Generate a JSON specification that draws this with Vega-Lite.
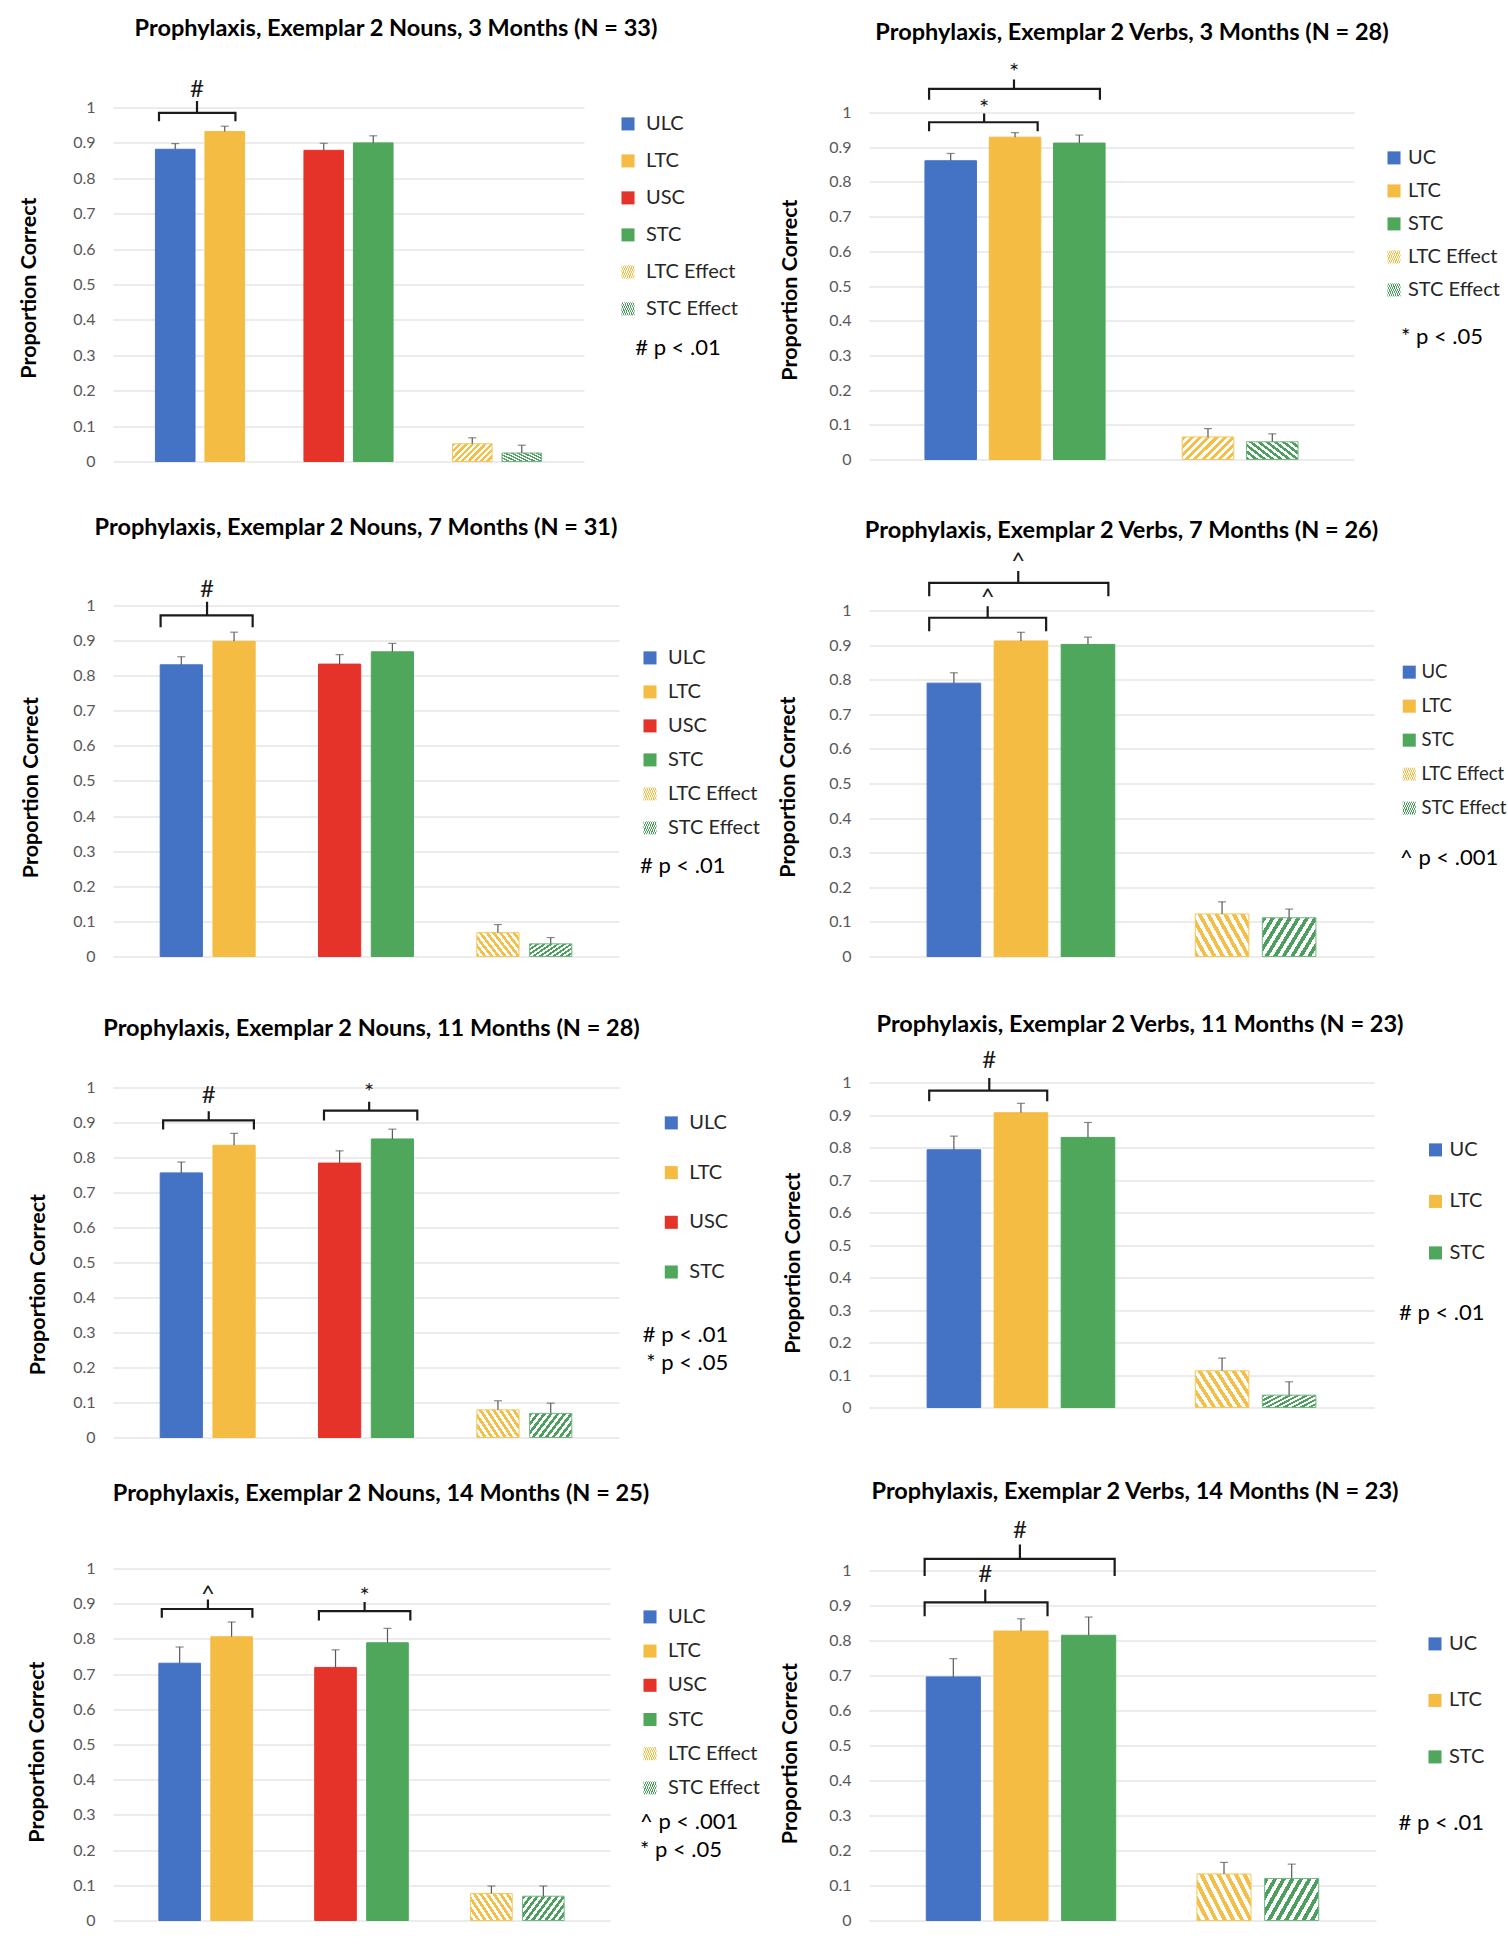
{
"$schema": "https://vega.github.io/schema/vega-lite/v6.json",
"background": "white",
"padding": {"left": 18, "top": 16.5, "right": 0, "bottom": 0},
"bounds": "flush",
"columns": 2,
"spacing": {"row": 78, "column": 250},
"resolve": {"scale": {"color": "independent", "stroke": "independent", "xOffset": "independent"}, "legend": {"color": "independent", "stroke": "independent"}},
"params": [
 {"name": "stY", "expr": "[{offset:0,color:'#F3BF48'},{offset:0.0556,color:'#F3BF48'},{offset:0.0556,color:'#fff'},{offset:0.1111,color:'#fff'},{offset:0.1111,color:'#F3BF48'},{offset:0.1667,color:'#F3BF48'},{offset:0.1667,color:'#fff'},{offset:0.2222,color:'#fff'},{offset:0.2222,color:'#F3BF48'},{offset:0.2778,color:'#F3BF48'},{offset:0.2778,color:'#fff'},{offset:0.3333,color:'#fff'},{offset:0.3333,color:'#F3BF48'},{offset:0.3889,color:'#F3BF48'},{offset:0.3889,color:'#fff'},{offset:0.4444,color:'#fff'},{offset:0.4444,color:'#F3BF48'},{offset:0.5,color:'#F3BF48'},{offset:0.5,color:'#fff'},{offset:0.5556,color:'#fff'},{offset:0.5556,color:'#F3BF48'},{offset:0.6111,color:'#F3BF48'},{offset:0.6111,color:'#fff'},{offset:0.6667,color:'#fff'},{offset:0.6667,color:'#F3BF48'},{offset:0.7222,color:'#F3BF48'},{offset:0.7222,color:'#fff'},{offset:0.7778,color:'#fff'},{offset:0.7778,color:'#F3BF48'},{offset:0.8333,color:'#F3BF48'},{offset:0.8333,color:'#fff'},{offset:0.8889,color:'#fff'},{offset:0.8889,color:'#F3BF48'},{offset:0.9444,color:'#F3BF48'},{offset:0.9444,color:'#fff'},{offset:1,color:'#fff'}]"},
 {"name": "stG", "expr": "[{offset:0,color:'#4E9F5F'},{offset:0.0556,color:'#4E9F5F'},{offset:0.0556,color:'#fff'},{offset:0.1111,color:'#fff'},{offset:0.1111,color:'#4E9F5F'},{offset:0.1667,color:'#4E9F5F'},{offset:0.1667,color:'#fff'},{offset:0.2222,color:'#fff'},{offset:0.2222,color:'#4E9F5F'},{offset:0.2778,color:'#4E9F5F'},{offset:0.2778,color:'#fff'},{offset:0.3333,color:'#fff'},{offset:0.3333,color:'#4E9F5F'},{offset:0.3889,color:'#4E9F5F'},{offset:0.3889,color:'#fff'},{offset:0.4444,color:'#fff'},{offset:0.4444,color:'#4E9F5F'},{offset:0.5,color:'#4E9F5F'},{offset:0.5,color:'#fff'},{offset:0.5556,color:'#fff'},{offset:0.5556,color:'#4E9F5F'},{offset:0.6111,color:'#4E9F5F'},{offset:0.6111,color:'#fff'},{offset:0.6667,color:'#fff'},{offset:0.6667,color:'#4E9F5F'},{offset:0.7222,color:'#4E9F5F'},{offset:0.7222,color:'#fff'},{offset:0.7778,color:'#fff'},{offset:0.7778,color:'#4E9F5F'},{offset:0.8333,color:'#4E9F5F'},{offset:0.8333,color:'#fff'},{offset:0.8889,color:'#fff'},{offset:0.8889,color:'#4E9F5F'},{offset:0.9444,color:'#4E9F5F'},{offset:0.9444,color:'#fff'},{offset:1,color:'#fff'}]"},
 {"name": "gYf", "expr": "{gradient:'linear',x1:0,y1:0,x2:1.2,y2:0.53,stops:stY}"},
 {"name": "gYb", "expr": "{gradient:'linear',x1:0,y1:1,x2:1.2,y2:0.47,stops:stY}"},
 {"name": "gGf", "expr": "{gradient:'linear',x1:0,y1:0,x2:1.2,y2:0.53,stops:stG}"},
 {"name": "gGb", "expr": "{gradient:'linear',x1:0,y1:1,x2:1.2,y2:0.47,stops:stG}"}
],
"config": {
 "font": "Lato",
 "view": {"stroke": null},
 "title": {"fontSize": 23.5, "fontWeight": "bold", "color": "#000000", "baseline": "middle", "font": "Lato"},
 "axis": {"labelFontSize": 16, "labelColor": "#595959", "labelPadding": 18, "ticks": false, "domain": false, "gridColor": "#d9d9d9", "gridWidth": 1.2, "titleFontSize": 21.5, "titleFontWeight": "bold", "titleColor": "#000000", "titleBaseline": "alphabetic", "format": "~g"},
 "legend": {"symbolType": "square", "symbolSize": 170, "symbolStrokeWidth": 0, "labelFontSize": 20, "labelColor": "#262626", "labelOffset": 8, "titleFontSize": 22, "titleFontWeight": "normal", "titleColor": "#000000", "titleLineHeight": 28, "padding": 0, "direction": "vertical", "orient": "none", "titleLimit": 300}
},
"concat": [
 {
  "width": 471, "height": 412,
  "title": {"text": "Prophylaxis, Exemplar 2 Nouns, 3 Months (N = 33)", "offset": 9.2, "dx": 47.5},
  "data": {"values": [
   {"s": "ULC", "y": 0.882, "hi": 0.898},
   {"s": "LTC", "y": 0.932, "hi": 0.947},
   {"s": "USC", "y": 0.879, "hi": 0.899},
   {"s": "STC", "y": 0.900, "hi": 0.920},
   {"s": "LTC Effect", "y": 0.050, "hi": 0.067},
   {"s": "STC Effect", "y": 0.024, "hi": 0.046}
  ]},
  "encoding": {
   "x": {"field": "s", "type": "nominal", "axis": null, "scale": {"domain": ["ULC","LTC","g1","USC","STC","g2","LTC Effect","STC Effect"], "paddingInner": 0.2, "paddingOuter": 0.857}},
   "y": {"field": "y", "type": "quantitative", "scale": {"domain": [0, 1.1638], "nice": false}, "axis": {"values": [0,0.1,0.2,0.3,0.4,0.5,0.6,0.7,0.8,0.9,1], "title": "Proportion Correct", "titleX": -78, "titleY": 238}}
  },
  "layer": [
   {"mark": {"type": "bar", "strokeWidth": 1, "width": 39.6},
    "encoding": {
     "color": {"field": "s", "type": "nominal", "scale": {"domain": ["ULC","LTC","USC","STC","LTC Effect","STC Effect"], "range": ["#4472C4","#F4BC42","#E5332A","#4EA75B",{"expr": "gYf"},{"expr": "gGb"}]},
      "legend": {"legendX": 505, "legendY": 64.4, "rowPadding": 17, "title": ["# p < .01"], "titleOrient": "bottom", "titlePadding": 19.3, "titleAnchor": "middle", "titleAlign": "center"}},
     "stroke": {"field": "s", "type": "nominal", "scale": {"domain": ["ULC","LTC","USC","STC","LTC Effect","STC Effect"], "range": ["#4472C4","#F4BC42","#E5332A","#4EA75B","#F3C75E","#74B784"]}, "legend": null}
    }},
   {"mark": {"type": "rule", "color": "#595959", "strokeWidth": 1.2}, "encoding": {"y2": {"field": "hi"}}},
   {"mark": {"type": "tick", "color": "#595959", "thickness": 1.2, "size": 8}, "encoding": {"y": {"field": "hi", "type": "quantitative", "scale": {"domain": [0, 1.1638], "nice": false}, "axis": {"values": [0,0.1,0.2,0.3,0.4,0.5,0.6,0.7,0.8,0.9,1], "title": "Proportion Correct", "titleX": -78, "titleY": 238}}}},
   {"data": {"values": [
     {"b": 1, "i": 0, "s": "ULC", "o": 0.09, "y": 0.961},
     {"b": 1, "i": 1, "s": "ULC", "o": 0.09, "y": 0.985},
     {"b": 1, "i": 2, "s": "ULC", "o": 1.05, "y": 0.985},
     {"b": 1, "i": 3, "s": "ULC", "o": 1.05, "y": 1.018},
     {"b": 1, "i": 4, "s": "ULC", "o": 1.05, "y": 0.985},
     {"b": 1, "i": 5, "s": "LTC", "o": 0.77, "y": 0.985},
     {"b": 1, "i": 6, "s": "LTC", "o": 0.77, "y": 0.961}
    ]},
    "mark": {"type": "line", "color": "#1a1a1a", "strokeWidth": 2.2},
    "encoding": {"xOffset": {"field": "o", "type": "quantitative", "scale": {"domain": [0, 1], "nice": false, "zero": false}}, "detail": {"field": "b", "type": "nominal"}, "order": {"field": "i", "type": "quantitative"}}},
   {"data": {"values": [{"s": "ULC", "o": 1.05, "y": 1.049, "t": "#"}]},
    "mark": {"type": "text", "fontSize": 24, "color": "#1a1a1a", "baseline": "middle"},
    "encoding": {"xOffset": {"field": "o", "type": "quantitative", "scale": {"domain": [0, 1], "nice": false, "zero": false}}, "text": {"field": "t"}}}
  ]
 },
 {
  "width": 485, "height": 410,
  "title": {"text": "Prophylaxis, Exemplar 2 Verbs, 3 Months (N = 28)", "offset": 5.5, "dx": 20.5},
  "data": {"values": [
   {"s": "UC", "y": 0.861, "hi": 0.882},
   {"s": "LTC", "y": 0.929, "hi": 0.942},
   {"s": "STC", "y": 0.912, "hi": 0.935},
   {"s": "LTC Effect", "y": 0.065, "hi": 0.089},
   {"s": "STC Effect", "y": 0.051, "hi": 0.074}
  ]},
  "encoding": {
   "x": {"field": "s", "type": "nominal", "axis": null, "scale": {"domain": ["UC","LTC","STC","g1","LTC Effect","STC Effect"], "paddingInner": 0.2, "paddingOuter": 0.87}},
   "y": {"field": "y", "type": "quantitative", "scale": {"domain": [0, 1.1816], "nice": false}, "axis": {"values": [0,0.1,0.2,0.3,0.4,0.5,0.6,0.7,0.8,0.9,1], "title": "Proportion Correct", "titleX": -73, "titleY": 240}}
  },
  "layer": [
   {"mark": {"type": "bar", "strokeWidth": 1, "width": 51.5},
    "encoding": {
     "color": {"field": "s", "type": "nominal", "scale": {"domain": ["UC","LTC","STC","LTC Effect","STC Effect"], "range": ["#4472C4","#F4BC42","#4EA75B",{"expr": "gYf"},{"expr": "gGb"}]},
      "legend": {"legendX": 515, "legendY": 98.4, "rowPadding": 13, "labelOffset": 4, "title": ["* p < .05"], "titleOrient": "bottom", "titlePadding": 27.3, "titleAnchor": "middle", "titleAlign": "center"}},
     "stroke": {"field": "s", "type": "nominal", "scale": {"domain": ["UC","LTC","STC","LTC Effect","STC Effect"], "range": ["#4472C4","#F4BC42","#4EA75B","#F3C75E","#74B784"]}, "legend": null}
    }},
   {"mark": {"type": "rule", "color": "#595959", "strokeWidth": 1.2}, "encoding": {"y2": {"field": "hi"}}},
   {"mark": {"type": "tick", "color": "#595959", "thickness": 1.2, "size": 8}, "encoding": {"y": {"field": "hi", "type": "quantitative", "scale": {"domain": [0, 1.1816], "nice": false}, "axis": {"values": [0,0.1,0.2,0.3,0.4,0.5,0.6,0.7,0.8,0.9,1], "title": "Proportion Correct", "titleX": -73, "titleY": 240}}}},
   {"data": {"values": [
     {"b": 1, "i": 0, "s": "UC", "o": 0.08, "y": 0.946},
     {"b": 1, "i": 1, "s": "UC", "o": 0.08, "y": 0.972},
     {"b": 1, "i": 2, "s": "UC", "o": 1.15, "y": 0.972},
     {"b": 1, "i": 3, "s": "UC", "o": 1.15, "y": 0.997},
     {"b": 1, "i": 4, "s": "UC", "o": 1.15, "y": 0.972},
     {"b": 1, "i": 5, "s": "LTC", "o": 0.94, "y": 0.972},
     {"b": 1, "i": 6, "s": "LTC", "o": 0.94, "y": 0.946},
     {"b": 2, "i": 0, "s": "UC", "o": 0.08, "y": 1.037},
     {"b": 2, "i": 1, "s": "UC", "o": 0.08, "y": 1.068},
     {"b": 2, "i": 2, "s": "LTC", "o": 0.48, "y": 1.068},
     {"b": 2, "i": 3, "s": "LTC", "o": 0.48, "y": 1.095},
     {"b": 2, "i": 4, "s": "LTC", "o": 0.48, "y": 1.068},
     {"b": 2, "i": 5, "s": "STC", "o": 0.9, "y": 1.068},
     {"b": 2, "i": 6, "s": "STC", "o": 0.9, "y": 1.037}
    ]},
    "mark": {"type": "line", "color": "#1a1a1a", "strokeWidth": 2.2},
    "encoding": {"xOffset": {"field": "o", "type": "quantitative", "scale": {"domain": [0, 1], "nice": false, "zero": false}}, "detail": {"field": "b", "type": "nominal"}, "order": {"field": "i", "type": "quantitative"}}},
   {"data": {"values": [{"s": "UC", "o": 1.15, "y": 1.009, "t": "*"}, {"s": "LTC", "o": 0.48, "y": 1.114, "t": "*"}]},
    "mark": {"type": "text", "fontSize": 24, "color": "#1a1a1a", "baseline": "middle"},
    "encoding": {"xOffset": {"field": "o", "type": "quantitative", "scale": {"domain": [0, 1], "nice": false, "zero": false}}, "text": {"field": "t"}}}
  ]
 },
 {
  "width": 506, "height": 417,
  "title": {"text": "Prophylaxis, Exemplar 2 Nouns, 7 Months (N = 31)", "offset": 0.5, "dx": -10},
  "data": {"values": [
   {"s": "ULC", "y": 0.831, "hi": 0.854},
   {"s": "LTC", "y": 0.898, "hi": 0.924},
   {"s": "USC", "y": 0.833, "hi": 0.860},
   {"s": "STC", "y": 0.868, "hi": 0.892},
   {"s": "LTC Effect", "y": 0.068, "hi": 0.091},
   {"s": "STC Effect", "y": 0.036, "hi": 0.054}
  ]},
  "encoding": {
   "x": {"field": "s", "type": "nominal", "axis": null, "scale": {"domain": ["ULC","LTC","g1","USC","STC","g2","LTC Effect","STC Effect"], "paddingInner": 0.2, "paddingOuter": 0.894}},
   "y": {"field": "y", "type": "quantitative", "scale": {"domain": [0, 1.188], "nice": false}, "axis": {"values": [0,0.1,0.2,0.3,0.4,0.5,0.6,0.7,0.8,0.9,1], "title": "Proportion Correct", "titleX": -76, "titleY": 247.5}}
  },
  "layer": [
   {"mark": {"type": "bar", "strokeWidth": 1, "width": 42.2},
    "encoding": {
     "color": {"field": "s", "type": "nominal", "scale": {"domain": ["ULC","LTC","USC","STC","LTC Effect","STC Effect"], "range": ["#4472C4","#F4BC42","#E5332A","#4EA75B",{"expr": "gYb"},{"expr": "gGf"}]},
      "legend": {"legendX": 527, "legendY": 108.4, "rowPadding": 14, "title": ["# p < .01"], "titleOrient": "bottom", "titlePadding": 18.3, "titleAnchor": "start", "titleAlign": "left"}},
     "stroke": {"field": "s", "type": "nominal", "scale": {"domain": ["ULC","LTC","USC","STC","LTC Effect","STC Effect"], "range": ["#4472C4","#F4BC42","#E5332A","#4EA75B","#F3C75E","#74B784"]}, "legend": null}
    }},
   {"mark": {"type": "rule", "color": "#595959", "strokeWidth": 1.2}, "encoding": {"y2": {"field": "hi"}}},
   {"mark": {"type": "tick", "color": "#595959", "thickness": 1.2, "size": 8}, "encoding": {"y": {"field": "hi", "type": "quantitative", "scale": {"domain": [0, 1.188], "nice": false}, "axis": {"values": [0,0.1,0.2,0.3,0.4,0.5,0.6,0.7,0.8,0.9,1], "title": "Proportion Correct", "titleX": -76, "titleY": 247.5}}}},
   {"data": {"values": [
     {"b": 1, "i": 0, "s": "ULC", "o": 0.01, "y": 0.938},
     {"b": 1, "i": 1, "s": "ULC", "o": 0.01, "y": 0.972},
     {"b": 1, "i": 2, "s": "ULC", "o": 1.11, "y": 0.972},
     {"b": 1, "i": 3, "s": "ULC", "o": 1.11, "y": 1.011},
     {"b": 1, "i": 4, "s": "ULC", "o": 1.11, "y": 0.972},
     {"b": 1, "i": 5, "s": "LTC", "o": 0.94, "y": 0.972},
     {"b": 1, "i": 6, "s": "LTC", "o": 0.94, "y": 0.938}
    ]},
    "mark": {"type": "line", "color": "#1a1a1a", "strokeWidth": 2.2},
    "encoding": {"xOffset": {"field": "o", "type": "quantitative", "scale": {"domain": [0, 1], "nice": false, "zero": false}}, "detail": {"field": "b", "type": "nominal"}, "order": {"field": "i", "type": "quantitative"}}},
   {"data": {"values": [{"s": "ULC", "o": 1.11, "y": 1.044, "t": "#"}]},
    "mark": {"type": "text", "fontSize": 24, "color": "#1a1a1a", "baseline": "middle"},
    "encoding": {"xOffset": {"field": "o", "type": "quantitative", "scale": {"domain": [0, 1], "nice": false, "zero": false}}, "text": {"field": "t"}}}
  ]
 },
 {
  "width": 505, "height": 417,
  "title": {"text": "Prophylaxis, Exemplar 2 Verbs, 7 Months (N = 26)", "offset": -2.5, "dx": 0},
  "data": {"values": [
   {"s": "UC", "y": 0.790, "hi": 0.820},
   {"s": "LTC", "y": 0.912, "hi": 0.937},
   {"s": "STC", "y": 0.902, "hi": 0.923},
   {"s": "LTC Effect", "y": 0.123, "hi": 0.158},
   {"s": "STC Effect", "y": 0.112, "hi": 0.137}
  ]},
  "encoding": {
   "x": {"field": "s", "type": "nominal", "axis": null, "scale": {"domain": ["UC","LTC","STC","g1","LTC Effect","STC Effect"], "paddingInner": 0.2, "paddingOuter": 0.866}},
   "y": {"field": "y", "type": "quantitative", "scale": {"domain": [0, 1.2052], "nice": false}, "axis": {"values": [0,0.1,0.2,0.3,0.4,0.5,0.6,0.7,0.8,0.9,1], "title": "Proportion Correct", "titleX": -75, "titleY": 247}}
  },
  "layer": [
   {"mark": {"type": "bar", "strokeWidth": 1, "width": 53.6},
    "encoding": {
     "color": {"field": "s", "type": "nominal", "scale": {"domain": ["UC","LTC","STC","LTC Effect","STC Effect"], "range": ["#4472C4","#F4BC42","#4EA75B",{"expr": "gYb"},{"expr": "gGf"}]},
      "legend": {"legendX": 531, "legendY": 123.4, "rowPadding": 15, "labelOffset": 3, "labelFontSize": 18.5, "title": ["^ p < .001"], "titleOrient": "bottom", "titlePadding": 30.3, "titleAnchor": "start", "titleAlign": "left"}},
     "stroke": {"field": "s", "type": "nominal", "scale": {"domain": ["UC","LTC","STC","LTC Effect","STC Effect"], "range": ["#4472C4","#F4BC42","#4EA75B","#F3C75E","#74B784"]}, "legend": null}
    }},
   {"mark": {"type": "rule", "color": "#595959", "strokeWidth": 1.2}, "encoding": {"y2": {"field": "hi"}}},
   {"mark": {"type": "tick", "color": "#595959", "thickness": 1.2, "size": 8}, "encoding": {"y": {"field": "hi", "type": "quantitative", "scale": {"domain": [0, 1.2052], "nice": false}, "axis": {"values": [0,0.1,0.2,0.3,0.4,0.5,0.6,0.7,0.8,0.9,1], "title": "Proportion Correct", "titleX": -75, "titleY": 247}}}},
   {"data": {"values": [
     {"b": 1, "i": 0, "s": "UC", "o": 0.04, "y": 0.940},
     {"b": 1, "i": 1, "s": "UC", "o": 0.04, "y": 0.979},
     {"b": 1, "i": 2, "s": "UC", "o": 1.13, "y": 0.979},
     {"b": 1, "i": 3, "s": "UC", "o": 1.13, "y": 1.012},
     {"b": 1, "i": 4, "s": "UC", "o": 1.13, "y": 0.979},
     {"b": 1, "i": 5, "s": "LTC", "o": 0.97, "y": 0.979},
     {"b": 1, "i": 6, "s": "LTC", "o": 0.97, "y": 0.940},
     {"b": 2, "i": 0, "s": "UC", "o": 0.04, "y": 1.041},
     {"b": 2, "i": 1, "s": "UC", "o": 0.04, "y": 1.080},
     {"b": 2, "i": 2, "s": "LTC", "o": 0.45, "y": 1.080},
     {"b": 2, "i": 3, "s": "LTC", "o": 0.45, "y": 1.114},
     {"b": 2, "i": 4, "s": "LTC", "o": 0.45, "y": 1.080},
     {"b": 2, "i": 5, "s": "STC", "o": 0.88, "y": 1.080},
     {"b": 2, "i": 6, "s": "STC", "o": 0.88, "y": 1.041}
    ]},
    "mark": {"type": "line", "color": "#1a1a1a", "strokeWidth": 2.2},
    "encoding": {"xOffset": {"field": "o", "type": "quantitative", "scale": {"domain": [0, 1], "nice": false, "zero": false}}, "detail": {"field": "b", "type": "nominal"}, "order": {"field": "i", "type": "quantitative"}}},
   {"data": {"values": [{"s": "UC", "o": 1.13, "y": 1.037, "t": "^"}, {"s": "LTC", "o": 0.45, "y": 1.139, "t": "^"}]},
    "mark": {"type": "text", "fontSize": 24, "color": "#1a1a1a", "baseline": "middle"},
    "encoding": {"xOffset": {"field": "o", "type": "quantitative", "scale": {"domain": [0, 1], "nice": false, "zero": false}}, "text": {"field": "t"}}}
  ]
 },
 {
  "width": 506, "height": 403,
  "title": {"text": "Prophylaxis, Exemplar 2 Nouns, 11 Months (N = 28)", "offset": -6.2, "dx": 5.5},
  "data": {"values": [
   {"s": "ULC", "y": 0.756, "hi": 0.787},
   {"s": "LTC", "y": 0.835, "hi": 0.869},
   {"s": "USC", "y": 0.784, "hi": 0.819},
   {"s": "STC", "y": 0.853, "hi": 0.881},
   {"s": "LTC Effect", "y": 0.079, "hi": 0.105},
   {"s": "STC Effect", "y": 0.069, "hi": 0.098}
  ]},
  "encoding": {
   "x": {"field": "s", "type": "nominal", "axis": null, "scale": {"domain": ["ULC","LTC","g1","USC","STC","g2","LTC Effect","STC Effect"], "paddingInner": 0.2, "paddingOuter": 0.894}},
   "y": {"field": "y", "type": "quantitative", "scale": {"domain": [0, 1.1514], "nice": false}, "axis": {"values": [0,0.1,0.2,0.3,0.4,0.5,0.6,0.7,0.8,0.9,1], "title": "Proportion Correct", "titleX": -69, "titleY": 249.5}}
  },
  "layer": [
   {"mark": {"type": "bar", "strokeWidth": 1, "width": 42.2},
    "encoding": {
     "color": {"field": "s", "type": "nominal", "scale": {"domain": ["ULC","LTC","USC","STC","LTC Effect","STC Effect"], "range": ["#4472C4","#F4BC42","#E5332A","#4EA75B",{"expr": "gYb"},{"expr": "gGf"}]},
      "legend": {"values": ["ULC","LTC","USC","STC"], "legendX": 530.3, "legendY": 78.4, "rowPadding": 29.7, "title": ["# p < .01", "* p < .05"], "titleOrient": "bottom", "titlePadding": 43.3, "titleAnchor": "end", "titleAlign": "right"}},
     "stroke": {"field": "s", "type": "nominal", "scale": {"domain": ["ULC","LTC","USC","STC","LTC Effect","STC Effect"], "range": ["#4472C4","#F4BC42","#E5332A","#4EA75B","#F3C75E","#74B784"]}, "legend": null}
    }},
   {"mark": {"type": "rule", "color": "#595959", "strokeWidth": 1.2}, "encoding": {"y2": {"field": "hi"}}},
   {"mark": {"type": "tick", "color": "#595959", "thickness": 1.2, "size": 8}, "encoding": {"y": {"field": "hi", "type": "quantitative", "scale": {"domain": [0, 1.1514], "nice": false}, "axis": {"values": [0,0.1,0.2,0.3,0.4,0.5,0.6,0.7,0.8,0.9,1], "title": "Proportion Correct", "titleX": -69, "titleY": 249.5}}}},
   {"data": {"values": [
     {"b": 1, "i": 0, "s": "ULC", "o": 0.07, "y": 0.880},
     {"b": 1, "i": 1, "s": "ULC", "o": 0.07, "y": 0.906},
     {"b": 1, "i": 2, "s": "ULC", "o": 1.15, "y": 0.906},
     {"b": 1, "i": 3, "s": "ULC", "o": 1.15, "y": 0.932},
     {"b": 1, "i": 4, "s": "ULC", "o": 1.15, "y": 0.906},
     {"b": 1, "i": 5, "s": "LTC", "o": 0.97, "y": 0.906},
     {"b": 1, "i": 6, "s": "LTC", "o": 0.97, "y": 0.880},
     {"b": 2, "i": 0, "s": "USC", "o": 0.13, "y": 0.906},
     {"b": 2, "i": 1, "s": "USC", "o": 0.13, "y": 0.934},
     {"b": 2, "i": 2, "s": "USC", "o": 1.2, "y": 0.934},
     {"b": 2, "i": 3, "s": "USC", "o": 1.2, "y": 0.959},
     {"b": 2, "i": 4, "s": "USC", "o": 1.2, "y": 0.934},
     {"b": 2, "i": 5, "s": "STC", "o": 1.09, "y": 0.934},
     {"b": 2, "i": 6, "s": "STC", "o": 1.09, "y": 0.906}
    ]},
    "mark": {"type": "line", "color": "#1a1a1a", "strokeWidth": 2.2},
    "encoding": {"xOffset": {"field": "o", "type": "quantitative", "scale": {"domain": [0, 1], "nice": false, "zero": false}}, "detail": {"field": "b", "type": "nominal"}, "order": {"field": "i", "type": "quantitative"}}},
   {"data": {"values": [{"s": "ULC", "o": 1.15, "y": 0.975, "t": "#"}, {"s": "USC", "o": 1.2, "y": 0.983, "t": "*"}]},
    "mark": {"type": "text", "fontSize": 24, "color": "#1a1a1a", "baseline": "middle"},
    "encoding": {"xOffset": {"field": "o", "type": "quantitative", "scale": {"domain": [0, 1], "nice": false, "zero": false}}, "text": {"field": "t"}}}
  ]
 },
 {
  "width": 505, "height": 373,
  "title": {"text": "Prophylaxis, Exemplar 2 Verbs, 11 Months (N = 23)", "offset": -1.8, "dx": 18.5},
  "data": {"values": [
   {"s": "UC", "y": 0.793, "hi": 0.835},
   {"s": "LTC", "y": 0.907, "hi": 0.936},
   {"s": "STC", "y": 0.831, "hi": 0.877},
   {"s": "LTC Effect", "y": 0.113, "hi": 0.152},
   {"s": "STC Effect", "y": 0.038, "hi": 0.079}
  ]},
  "encoding": {
   "x": {"field": "s", "type": "nominal", "axis": null, "scale": {"domain": ["UC","LTC","STC","g1","LTC Effect","STC Effect"], "paddingInner": 0.2, "paddingOuter": 0.866}},
   "y": {"field": "y", "type": "quantitative", "scale": {"domain": [0, 1.1477], "nice": false}, "axis": {"values": [0,0.1,0.2,0.3,0.4,0.5,0.6,0.7,0.8,0.9,1], "title": "Proportion Correct", "titleX": -70, "titleY": 228}}
  },
  "layer": [
   {"mark": {"type": "bar", "strokeWidth": 1, "width": 53.6},
    "encoding": {
     "color": {"field": "s", "type": "nominal", "scale": {"domain": ["UC","LTC","STC","LTC Effect","STC Effect"], "range": ["#4472C4","#F4BC42","#4EA75B",{"expr": "gYb"},{"expr": "gGf"}]},
      "legend": {"values": ["UC","LTC","STC"], "legendX": 530.5, "legendY": 105.4, "rowPadding": 31.5, "labelOffset": 4, "title": ["# p < .01"], "titleOrient": "bottom", "titlePadding": 40.3, "titleAnchor": "end", "titleAlign": "right"}},
     "stroke": {"field": "s", "type": "nominal", "scale": {"domain": ["UC","LTC","STC","LTC Effect","STC Effect"], "range": ["#4472C4","#F4BC42","#4EA75B","#F3C75E","#74B784"]}, "legend": null}
    }},
   {"mark": {"type": "rule", "color": "#595959", "strokeWidth": 1.2}, "encoding": {"y2": {"field": "hi"}}},
   {"mark": {"type": "tick", "color": "#595959", "thickness": 1.2, "size": 8}, "encoding": {"y": {"field": "hi", "type": "quantitative", "scale": {"domain": [0, 1.1477], "nice": false}, "axis": {"values": [0,0.1,0.2,0.3,0.4,0.5,0.6,0.7,0.8,0.9,1], "title": "Proportion Correct", "titleX": -70, "titleY": 228}}}},
   {"data": {"values": [
     {"b": 1, "i": 0, "s": "UC", "o": 0.04, "y": 0.9425},
     {"b": 1, "i": 1, "s": "UC", "o": 0.04, "y": 0.975},
     {"b": 1, "i": 2, "s": "UC", "o": 1.16, "y": 0.975},
     {"b": 1, "i": 3, "s": "UC", "o": 1.16, "y": 1.014},
     {"b": 1, "i": 4, "s": "UC", "o": 1.16, "y": 0.975},
     {"b": 1, "i": 5, "s": "LTC", "o": 0.99, "y": 0.975},
     {"b": 1, "i": 6, "s": "LTC", "o": 0.99, "y": 0.9425}
    ]},
    "mark": {"type": "line", "color": "#1a1a1a", "strokeWidth": 2.2},
    "encoding": {"xOffset": {"field": "o", "type": "quantitative", "scale": {"domain": [0, 1], "nice": false, "zero": false}}, "detail": {"field": "b", "type": "nominal"}, "order": {"field": "i", "type": "quantitative"}}},
   {"data": {"values": [{"s": "UC", "o": 1.16, "y": 1.066, "t": "#"}]},
    "mark": {"type": "text", "fontSize": 24, "color": "#1a1a1a", "baseline": "middle"},
    "encoding": {"xOffset": {"field": "o", "type": "quantitative", "scale": {"domain": [0, 1], "nice": false, "zero": false}}, "text": {"field": "t"}}}
  ]
 },
 {
  "width": 497, "height": 405,
  "title": {"text": "Prophylaxis, Exemplar 2 Nouns, 14 Months (N = 25)", "offset": 9.8, "dx": 19.5},
  "data": {"values": [
   {"s": "ULC", "y": 0.731, "hi": 0.777},
   {"s": "LTC", "y": 0.806, "hi": 0.848},
   {"s": "USC", "y": 0.719, "hi": 0.769},
   {"s": "STC", "y": 0.789, "hi": 0.830},
   {"s": "LTC Effect", "y": 0.077, "hi": 0.098},
   {"s": "STC Effect", "y": 0.069, "hi": 0.098}
  ]},
  "encoding": {
   "x": {"field": "s", "type": "nominal", "axis": null, "scale": {"domain": ["ULC","LTC","g1","USC","STC","g2","LTC Effect","STC Effect"], "paddingInner": 0.2, "paddingOuter": 0.883}},
   "y": {"field": "y", "type": "quantitative", "scale": {"domain": [0, 1.1506], "nice": false}, "axis": {"values": [0,0.1,0.2,0.3,0.4,0.5,0.6,0.7,0.8,0.9,1], "title": "Proportion Correct", "titleX": -70, "titleY": 236}}
  },
  "layer": [
   {"mark": {"type": "bar", "strokeWidth": 1, "width": 41.6},
    "encoding": {
     "color": {"field": "s", "type": "nominal", "scale": {"domain": ["ULC","LTC","USC","STC","LTC Effect","STC Effect"], "range": ["#4472C4","#F4BC42","#E5332A","#4EA75B",{"expr": "gYb"},{"expr": "gGf"}]},
      "legend": {"legendX": 527, "legendY": 91.4, "rowPadding": 14.2, "title": ["^ p < .001", "* p < .05"], "titleOrient": "bottom", "titlePadding": 14.3, "titleAnchor": "start", "titleAlign": "left"}},
     "stroke": {"field": "s", "type": "nominal", "scale": {"domain": ["ULC","LTC","USC","STC","LTC Effect","STC Effect"], "range": ["#4472C4","#F4BC42","#E5332A","#4EA75B","#F3C75E","#74B784"]}, "legend": null}
    }},
   {"mark": {"type": "rule", "color": "#595959", "strokeWidth": 1.2}, "encoding": {"y2": {"field": "hi"}}},
   {"mark": {"type": "tick", "color": "#595959", "thickness": 1.2, "size": 8}, "encoding": {"y": {"field": "hi", "type": "quantitative", "scale": {"domain": [0, 1.1506], "nice": false}, "axis": {"values": [0,0.1,0.2,0.3,0.4,0.5,0.6,0.7,0.8,0.9,1], "title": "Proportion Correct", "titleX": -70, "titleY": 236}}}},
   {"data": {"values": [
     {"b": 1, "i": 0, "s": "ULC", "o": 0.07, "y": 0.860},
     {"b": 1, "i": 1, "s": "ULC", "o": 0.07, "y": 0.885},
     {"b": 1, "i": 2, "s": "ULC", "o": 1.18, "y": 0.885},
     {"b": 1, "i": 3, "s": "ULC", "o": 1.18, "y": 0.912},
     {"b": 1, "i": 4, "s": "ULC", "o": 1.18, "y": 0.885},
     {"b": 1, "i": 5, "s": "LTC", "o": 1.0, "y": 0.885},
     {"b": 1, "i": 6, "s": "LTC", "o": 1.0, "y": 0.860},
     {"b": 2, "i": 0, "s": "USC", "o": 0.1, "y": 0.852},
     {"b": 2, "i": 1, "s": "USC", "o": 0.1, "y": 0.879},
     {"b": 2, "i": 2, "s": "USC", "o": 1.2, "y": 0.879},
     {"b": 2, "i": 3, "s": "USC", "o": 1.2, "y": 0.905},
     {"b": 2, "i": 4, "s": "USC", "o": 1.2, "y": 0.879},
     {"b": 2, "i": 5, "s": "STC", "o": 1.05, "y": 0.879},
     {"b": 2, "i": 6, "s": "STC", "o": 1.05, "y": 0.852}
    ]},
    "mark": {"type": "line", "color": "#1a1a1a", "strokeWidth": 2.2},
    "encoding": {"xOffset": {"field": "o", "type": "quantitative", "scale": {"domain": [0, 1], "nice": false, "zero": false}}, "detail": {"field": "b", "type": "nominal"}, "order": {"field": "i", "type": "quantitative"}}},
   {"data": {"values": [{"s": "ULC", "o": 1.18, "y": 0.926, "t": "^"}, {"s": "USC", "o": 1.2, "y": 0.918, "t": "*"}]},
    "mark": {"type": "text", "fontSize": 24, "color": "#1a1a1a", "baseline": "middle"},
    "encoding": {"xOffset": {"field": "o", "type": "quantitative", "scale": {"domain": [0, 1], "nice": false, "zero": false}}, "text": {"field": "t"}}}
  ]
 },
 {
  "width": 507, "height": 405,
  "title": {"text": "Prophylaxis, Exemplar 2 Verbs, 14 Months (N = 23)", "offset": 12.5, "dx": 12.5},
  "data": {"values": [
   {"s": "UC", "y": 0.696, "hi": 0.748},
   {"s": "LTC", "y": 0.827, "hi": 0.862},
   {"s": "STC", "y": 0.815, "hi": 0.867},
   {"s": "LTC Effect", "y": 0.133, "hi": 0.166},
   {"s": "STC Effect", "y": 0.120, "hi": 0.161}
  ]},
  "encoding": {
   "x": {"field": "s", "type": "nominal", "axis": null, "scale": {"domain": ["UC","LTC","STC","g1","LTC Effect","STC Effect"], "paddingInner": 0.2, "paddingOuter": 0.846}},
   "y": {"field": "y", "type": "quantitative", "scale": {"domain": [0, 1.1571], "nice": false}, "axis": {"values": [0,0.1,0.2,0.3,0.4,0.5,0.6,0.7,0.8,0.9,1], "title": "Proportion Correct", "titleX": -73, "titleY": 237.5}}
  },
  "layer": [
   {"mark": {"type": "bar", "strokeWidth": 1, "width": 54.1},
    "encoding": {
     "color": {"field": "s", "type": "nominal", "scale": {"domain": ["UC","LTC","STC","LTC Effect","STC Effect"], "range": ["#4472C4","#F4BC42","#4EA75B",{"expr": "gYb"},{"expr": "gGf"}]},
      "legend": {"values": ["UC","LTC","STC"], "legendX": 530, "legendY": 118.4, "rowPadding": 36.5, "labelOffset": 4, "title": ["# p < .01"], "titleOrient": "bottom", "titlePadding": 46.3, "titleAnchor": "end", "titleAlign": "right"}},
     "stroke": {"field": "s", "type": "nominal", "scale": {"domain": ["UC","LTC","STC","LTC Effect","STC Effect"], "range": ["#4472C4","#F4BC42","#4EA75B","#F3C75E","#74B784"]}, "legend": null}
    }},
   {"mark": {"type": "rule", "color": "#595959", "strokeWidth": 1.2}, "encoding": {"y2": {"field": "hi"}}},
   {"mark": {"type": "tick", "color": "#595959", "thickness": 1.2, "size": 8}, "encoding": {"y": {"field": "hi", "type": "quantitative", "scale": {"domain": [0, 1.1571], "nice": false}, "axis": {"values": [0,0.1,0.2,0.3,0.4,0.5,0.6,0.7,0.8,0.9,1], "title": "Proportion Correct", "titleX": -73, "titleY": 237.5}}}},
   {"data": {"values": [
     {"b": 1, "i": 0, "s": "UC", "o": -0.03, "y": 0.869},
     {"b": 1, "i": 1, "s": "UC", "o": -0.03, "y": 0.909},
     {"b": 1, "i": 2, "s": "UC", "o": 1.09, "y": 0.909},
     {"b": 1, "i": 3, "s": "UC", "o": 1.09, "y": 0.946},
     {"b": 1, "i": 4, "s": "UC", "o": 1.09, "y": 0.909},
     {"b": 1, "i": 5, "s": "LTC", "o": 0.99, "y": 0.909},
     {"b": 1, "i": 6, "s": "LTC", "o": 0.99, "y": 0.869},
     {"b": 2, "i": 0, "s": "UC", "o": -0.03, "y": 0.984},
     {"b": 2, "i": 1, "s": "UC", "o": -0.03, "y": 1.033},
     {"b": 2, "i": 2, "s": "LTC", "o": 0.48, "y": 1.033},
     {"b": 2, "i": 3, "s": "LTC", "o": 0.48, "y": 1.074},
     {"b": 2, "i": 4, "s": "LTC", "o": 0.48, "y": 1.033},
     {"b": 2, "i": 5, "s": "STC", "o": 0.98, "y": 1.033},
     {"b": 2, "i": 6, "s": "STC", "o": 0.98, "y": 0.984}
    ]},
    "mark": {"type": "line", "color": "#1a1a1a", "strokeWidth": 2.2},
    "encoding": {"xOffset": {"field": "o", "type": "quantitative", "scale": {"domain": [0, 1], "nice": false, "zero": false}}, "detail": {"field": "b", "type": "nominal"}, "order": {"field": "i", "type": "quantitative"}}},
   {"data": {"values": [{"s": "UC", "o": 1.09, "y": 0.986, "t": "#"}, {"s": "LTC", "o": 0.48, "y": 1.114, "t": "#"}]},
    "mark": {"type": "text", "fontSize": 24, "color": "#1a1a1a", "baseline": "middle"},
    "encoding": {"xOffset": {"field": "o", "type": "quantitative", "scale": {"domain": [0, 1], "nice": false, "zero": false}}, "text": {"field": "t"}}}
  ]
 }
]
}
